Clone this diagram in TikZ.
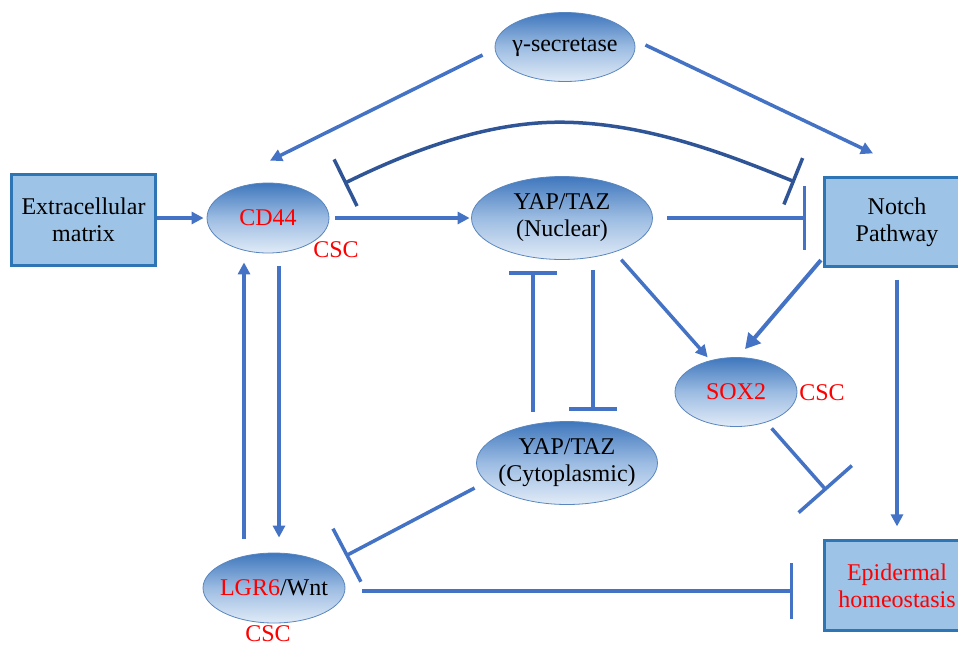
\documentclass[tikz,border=0pt]{standalone}
\usepackage{fontspec}
\setmainfont{Liberation Serif}
\usetikzlibrary{arrows.meta,shapes.geometric,calc}
\definecolor{ln}{HTML}{4472C4}
\definecolor{curvc}{HTML}{2F5597}
\definecolor{boxF}{HTML}{9DC3E6}
\definecolor{boxB}{HTML}{2E75B6}
\definecolor{eTop}{HTML}{3F77BD}
\definecolor{eMid}{HTML}{9CBCE2}
\definecolor{eBot}{HTML}{E1EBF7}
\definecolor{eB}{HTML}{5A86BF}
\definecolor{tred}{HTML}{FF0000}
\begin{document}
\begin{tikzpicture}[x=1pt,y=-1pt,
  txt/.style={font=\fontsize{24}{27}\selectfont, align=center},
  ell/.style={txt, ellipse, draw=eB, line width=0.8pt, top color=eTop, bottom color=eBot, middle color=eMid, inner sep=-12pt},
  boxnode/.style={txt, rectangle, draw=boxB, line width=3.2pt, fill=boxF, inner sep=0pt},
  csc/.style={txt, text=tred, inner sep=0pt},
  act/.style={draw=ln, line width=3.5pt, -{Triangle[length=12pt,width=12pt]}},
  bigact/.style={draw=ln, line width=4pt, -{Triangle[length=15pt,width=16pt]}},
  inh/.style={draw=ln, line width=3.5pt, -{Bar[width=#1]}},
  curv/.style={draw=curvc, line width=3.5pt, {Bar[width=52pt]}-{Bar[width=50pt]}}
]
\useasboundingbox (0,0) rectangle (958,646);
\clip (0,0) rectangle (958,646);

% nodes
\node[boxnode, minimum width=144, minimum height=91] (ecm) at (83.5,220) {Extracellular\\matrix};
\node[ell, minimum width=122, minimum height=70, text=tred] (cd44) at (268,218) {CD44};
\node[ell, minimum width=140, minimum height=69] (gsec) at (565,47) {γ-secretase};
\node[ell, minimum width=181, minimum height=83] (yapn) at (562,218) {YAP/TAZ\\(Nuclear)};
\node[boxnode, minimum width=145, minimum height=89] (notch) at (897,222) {Notch\\Pathway};
\node[ell, minimum width=122, minimum height=69, text=tred] (sox2) at (736,392) {SOX2};
\node[ell, minimum width=181, minimum height=83] (yapc) at (567,463) {YAP/TAZ\\(Cytoplasmic)};
\node[ell, minimum width=142, minimum height=70] (lgr6) at (274,588) {\textcolor{tred}{LGR6}/Wnt};
\node[boxnode, minimum width=145, minimum height=90, text=tred] (epi) at (897,585.5) {Epidermal\\homeostasis};

\node[csc] (csc1) at (336,250) {CSC};
\node[csc] (csc2) at (822,393) {CSC};
\node[csc] (csc3) at (268,634) {CSC};

% connectors
\draw[act, shorten >=3pt] (ecm.east |- cd44.west) -- (cd44.west);
\draw[act] ($(gsec.west)+(-12,8)$) -- ($(cd44.north)+(2,-22)$);
\draw[act] ($(gsec.east)+(10,-2)$) -- ($(notch.north)+(-24,-22.5)$);

\coordinate (cL) at ($(cd44.center)+(76,-34.5)$);
\coordinate (cR) at ($(notch.north west)+(-28,6)$);
\coordinate (cTop) at ($(cL)!0.5!(cR)+(-10,-60.5)$);
\draw[curv] (cL) .. controls +(55,-27) and +(-80,0) .. (cTop) .. controls +(90,0) and +(-57,-23) .. (cR);

\draw[act, shorten <=6pt, shorten >=1.5pt] (cd44.east) -- (yapn.west);
\draw[inh=64pt, shorten <=14.5pt, shorten >=16.5pt] (yapn.east) -- (yapn.east -| notch.west);
\draw[bigact] ($(notch.south west)+(-2,-8)$) -- ($(sox2.north)+(9,-8)$);
\draw[act, shorten <=10pt, shorten >=4pt] (yapn.-33) -- (sox2.129);
\draw[act, shorten <=11.5pt, shorten >=12.5pt] (notch.south) -- (epi.north);
\draw[inh=71pt, shorten <=8pt] (sox2.-45) -- ($(epi.north west)+(3.5,-48.5)$);

\draw[inh=48pt] ($(yapc.north)+(-34,-9.5)$) -- ($(yapn.south)+(-29,11.5)$);
\draw[inh=48pt] ($(yapn.south)+(31,10.5)$) -- ($(yapc.north)+(26,-10.5)$);

\draw[act] ($(cd44.south)+(11,13)$) -- ($(lgr6.north)+(5,-15)$);
\draw[act] ($(lgr6.north)+(-30,-14)$) -- ($(cd44.south)+(-24,9)$);

\draw[inh=60pt] ($(yapc.west)+(-1.5,25)$) -- ($(lgr6.east)+(0,-32)$);
\draw[inh=56pt] ($(lgr6.east)+(17,3)$) -- ($(epi.west)+(-29.5,5.5)$);
\end{tikzpicture}
\end{document}
